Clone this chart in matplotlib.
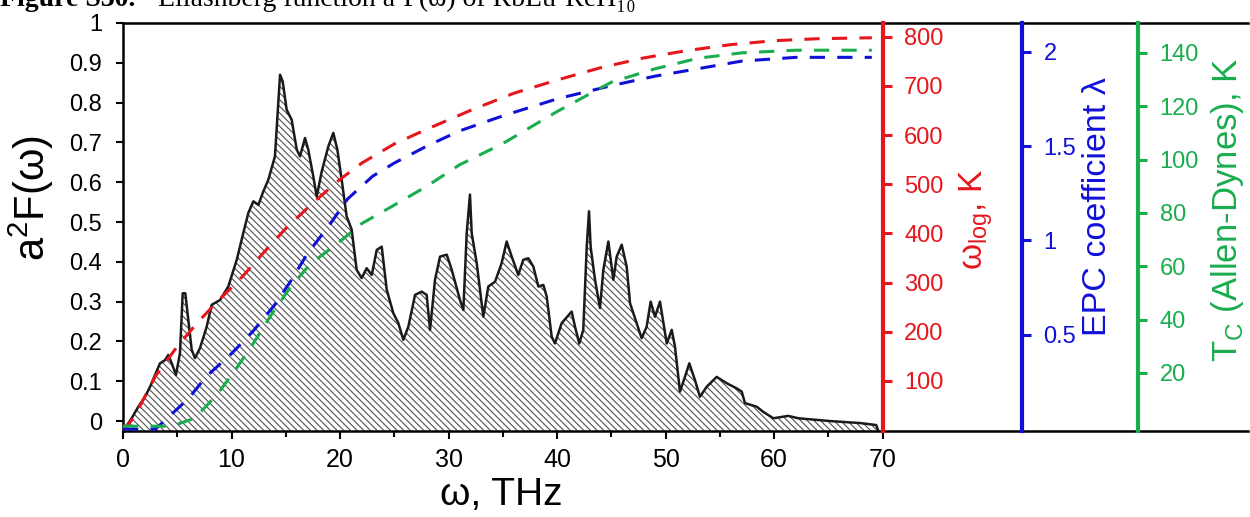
import matplotlib
matplotlib.use("Agg")
import matplotlib.pyplot as plt
from matplotlib.ticker import FuncFormatter, MultipleLocator, FixedLocator

# Eliashberg function a2F(w)
FREQ_THZ = [0.0, 0.80, 1.41, 2.03, 2.49, 2.95, 3.41, 3.87, 4.17, 4.49,
            4.88, 5.25, 5.50, 5.74, 6.02, 6.33, 6.63, 7.09, 7.71, 8.17,
            8.94, 9.70, 10.48, 11.08, 11.55, 12.01, 12.47, 12.93, 13.39, 14.00,
            14.47, 14.71, 15.08, 15.54, 16.01, 16.31, 16.77, 17.07, 17.53, 17.85,
            18.31, 18.92, 19.38, 19.75, 20.15, 20.61, 21.07, 21.53, 21.99, 22.45,
            22.92, 23.38, 23.84, 24.30, 24.91, 25.37, 25.83, 26.29, 26.91, 27.52,
            27.98, 28.29, 28.75, 29.21, 29.83, 30.29, 31.05, 31.36, 31.67, 31.97,
            32.13, 32.59, 33.20, 33.66, 34.28, 34.89, 35.35, 35.82, 36.42, 36.88,
            37.35, 37.81, 38.27, 38.73, 39.04, 39.50, 39.80, 40.42, 41.34, 41.65,
            42.04, 42.41, 42.73, 42.94, 43.09, 43.49, 43.95, 44.26, 44.72, 45.18,
            45.49, 45.95, 46.41, 46.72, 47.33, 47.79, 48.25, 48.62, 49.02, 49.48,
            50.10, 50.56, 50.86, 51.32, 51.78, 52.18, 52.70, 53.16, 53.78, 54.70,
            55.63, 56.55, 57.01, 57.31, 58.39, 59.00, 59.92, 61.30, 62.22, 65.14,
            67.90, 69.40, 69.60]
A2F = [-0.025, 0.007, 0.036, 0.061, 0.086, 0.116, 0.145, 0.153, 0.166, 0.145,
       0.116, 0.171, 0.321, 0.321, 0.254, 0.179, 0.158, 0.183, 0.237, 0.292,
       0.304, 0.338, 0.405, 0.472, 0.523, 0.552, 0.543, 0.577, 0.606, 0.665,
       0.870, 0.854, 0.782, 0.757, 0.682, 0.665, 0.711, 0.682, 0.615, 0.564,
       0.627, 0.690, 0.724, 0.682, 0.606, 0.514, 0.481, 0.380, 0.359, 0.384,
       0.367, 0.430, 0.438, 0.330, 0.271, 0.246, 0.204, 0.237, 0.317, 0.325,
       0.317, 0.229, 0.355, 0.413, 0.418, 0.380, 0.304, 0.279, 0.472, 0.569,
       0.472, 0.397, 0.262, 0.338, 0.350, 0.397, 0.451, 0.413, 0.367, 0.405,
       0.409, 0.388, 0.338, 0.342, 0.313, 0.212, 0.195, 0.246, 0.275, 0.237,
       0.195, 0.229, 0.438, 0.527, 0.438, 0.355, 0.284, 0.380, 0.451, 0.355,
       0.413, 0.443, 0.388, 0.296, 0.246, 0.208, 0.237, 0.300, 0.262, 0.300,
       0.195, 0.229, 0.187, 0.074, 0.111, 0.145, 0.103, 0.061, 0.086, 0.111,
       0.095, 0.082, 0.074, 0.045, 0.036, 0.023, 0.007, 0.013, 0.007, 0.0,
       -0.005, -0.010, -0.025]

# omega_log, K
WLOG_THZ = [0, 1, 3, 5, 7, 9, 11, 13, 15, 17.5, 20, 22, 25, 28, 32, 36, 40, 44,
            48, 52, 56, 60, 64, 69]
WLOG_K = [0, 25, 110, 170, 222, 268, 312, 362, 410, 462, 510, 543, 582, 612,
          650, 685, 712, 737, 757, 772, 784, 792, 796, 798]

# EPC coefficient lambda
LAMBDA_THZ = [0, 3, 4.3, 6, 7.7, 10, 12, 14, 15.4, 17, 19, 20.7, 23, 25, 28, 31,
              35, 40, 45, 49, 53, 57, 62, 69]
LAMBDA = [0, 0, 0.07, 0.16, 0.28, 0.40, 0.52, 0.66, 0.78, 0.93, 1.08, 1.22,
          1.34, 1.41, 1.50, 1.58, 1.66, 1.75, 1.82, 1.87, 1.91, 1.95, 1.97, 1.97]

# Tc (Allen-Dynes), K
TC_THZ = [0, 4.5, 6.6, 8.7, 10.5, 12, 13.7, 15.4, 17.3, 19.6, 22, 24.6, 28, 31,
          35, 40, 45, 49, 53, 57, 62, 69]
TC_K = [0, 0, 3, 12, 22, 31, 42, 52, 61, 68, 76, 82, 90, 98,
        106, 118, 129, 134, 138, 140, 141, 141]

RED = "#e5161c"
BLUE = "#1010d8"
GREEN = "#19ad4e"
W, H = 1250, 517

plt.rcParams["font.family"] = ["Liberation Sans", "DejaVu Sans"]
plt.rcParams["mathtext.fontset"] = "custom"
plt.rcParams["mathtext.rm"] = "Liberation Sans"
plt.rcParams["hatch.linewidth"] = 0.8
SERIF = ["Liberation Serif", "DejaVu Serif"]


def px(x, y):
    return x / W, 1 - y / H


fig = plt.figure(figsize=(W / 100, H / 100), dpi=100)
ax = fig.add_axes([123 / W, 1 - 431 / H, 1125 / W, 408 / H])

ax.fill_between(FREQ_THZ, A2F, -0.025, facecolor="white", edgecolor="#505050",
                hatch="\\\\\\\\\\", linewidth=0)
ax.plot(FREQ_THZ, A2F, color="#1a1a1a", lw=1.8)

ax.set_xlim(0, 103.66)
ax.set_ylim(-0.025, 1.0)
ax.xaxis.set_major_locator(FixedLocator(range(0, 71, 10)))
ax.xaxis.set_minor_locator(FixedLocator(range(5, 70, 10)))
ax.yaxis.set_major_locator(MultipleLocator(0.1))
ax.yaxis.set_major_formatter(FuncFormatter(lambda v, p: f"{v:.1f}".rstrip("0").rstrip(".") if abs(v) > 1e-9 else "0"))
ax.tick_params(axis="x", which="major", length=6, width=1.5, pad=6, labelsize=18)
ax.tick_params(axis="x", which="minor", length=4, width=1.5)
ax.tick_params(axis="y", length=5, width=1.5, pad=10, labelsize=17)
for s in ("left", "bottom", "top"):
    ax.spines[s].set_linewidth(1.8)
ax.spines["right"].set_visible(False)

specs = [
    (WLOG_THZ, WLOG_K, RED, (-2, 828), range(100, 801, 100), ("data", 70)),
    (LAMBDA_THZ, LAMBDA, BLUE, (-0.01, 2.152), [0.5, 1, 1.5, 2], ("axes", 899 / 1125)),
    (TC_THZ, TC_K, GREEN, (-1.8, 151.2), range(20, 141, 20), ("axes", 1015 / 1125)),
]
for xs, ys, col, lim, ticks, pos in specs:
    tw = ax.twinx()
    tw.plot(xs, ys, color=col, lw=2.2, ls=(0, (5, 4)))
    tw.set_ylim(*lim)
    tw.yaxis.set_major_locator(FixedLocator(list(ticks)))
    tw.yaxis.set_major_formatter(FuncFormatter(lambda v, p: f"{v:g}"))
    for s in ("left", "top", "bottom"):
        tw.spines[s].set_visible(False)
    tw.spines["right"].set_position(pos)
    tw.spines["right"].set_color(col)
    tw.spines["right"].set_linewidth(3)
    tw.tick_params(axis="y", colors=col, length=6.5, width=2.2, pad=9, labelsize=17)

# axis titles
fig.text(*px(31, 198), r"a$^{\mathrm{2}}$F(ω)", rotation=90, ha="center", va="center",
         fontsize=30)
fig.text(*px(501, 505), "ω, THz", ha="center", va="baseline", fontsize=28)
fig.text(*px(976, 220), r"ω$_{\mathrm{log}}$, K", rotation=90, ha="center", va="center",
         fontsize=24, color=RED)
fig.text(*px(1097, 207), "EPC coefficient λ", rotation=90, ha="center", va="center",
         fontsize=24.5, color=BLUE)
fig.text(*px(1227, 210), r"T$_{\mathrm{C}}$ (Allen-Dynes), K", rotation=90, ha="center",
         va="center", fontsize=25, color=GREEN)

# caption, cut off at the top edge as in the source page
fig.text(*px(0, 6), "Figure S30.", ha="left", va="baseline", fontsize=20,
         weight="bold", family=SERIF)
fig.text(*px(158, 6), "Eliashberg function a²F(ω) of RbLu·ReH₁₀", ha="left",
         va="baseline", fontsize=20, family=SERIF)

fig.savefig("out.png", dpi=100)
